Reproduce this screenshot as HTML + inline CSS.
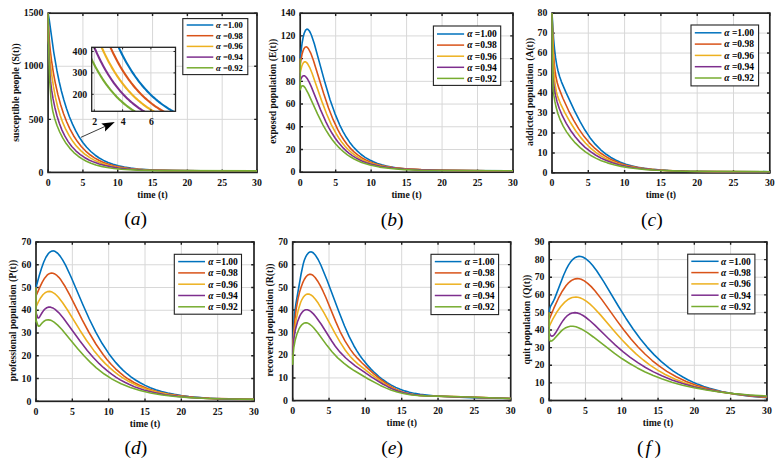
<!DOCTYPE html><html><head><meta charset="utf-8"><style>html,body{margin:0;padding:0;background:#fff;overflow:hidden}svg{display:block}.tk{font-family:"Liberation Serif",serif;font-weight:bold;font-size:9.8px;fill:#111}.lb{font-family:"Liberation Serif",serif;font-weight:bold;font-size:9.7px;fill:#111}.lg{font-family:"Liberation Serif",serif;font-weight:bold;font-size:9.5px;fill:#000}.al{font-style:italic;font-weight:bold}.sub{font-family:"Liberation Serif",serif;font-size:19.5px;fill:#000}.it{font-style:italic}</style></head><body>
<svg width="784" height="466" viewBox="0 0 784 466">
<rect width="784" height="466" fill="#fff"/>
<path d="M82.92 13.2V172.4M117.73 13.2V172.4M152.55 13.2V172.4M187.37 13.2V172.4M222.18 13.2V172.4M48.1 119.33H257M48.1 66.27H257" stroke="#d8d8d8" stroke-width="1" fill="none"/>
<path d="M48.1 172.4v-2.8M48.1 13.2v2.8M82.92 172.4v-2.8M82.92 13.2v2.8M117.73 172.4v-2.8M117.73 13.2v2.8M152.55 172.4v-2.8M152.55 13.2v2.8M187.37 172.4v-2.8M187.37 13.2v2.8M222.18 172.4v-2.8M222.18 13.2v2.8M257 172.4v-2.8M257 13.2v2.8M48.1 172.4h2.8M257 172.4h-2.8M48.1 119.33h2.8M257 119.33h-2.8M48.1 66.27h2.8M257 66.27h-2.8M48.1 13.2h2.8M257 13.2h-2.8" stroke="#222222" stroke-width="1.4" fill="none"/>
<rect x="48.1" y="13.2" width="208.9" height="159.2" fill="none" stroke="#222222" stroke-width="1.7"/>
<clipPath id="ca"><rect x="47.1" y="12.2" width="210.9" height="161.2"/></clipPath>
<g clip-path="url(#ca)" fill="none" stroke-width="1.6" stroke-linejoin="round">
<path d="M48.1 13.2L49.32 20.4L53.73 52.08L56.97 70.94L59.1 81.27L61.4 90.94L63.88 100.08L66.49 108.51L69.42 116.71L72.5 124.17L75.75 130.94L79.21 137.06L82.83 142.46L86.69 147.28L90.8 151.51L95.21 155.22L99.21 157.97L103.52 160.4L108.1 162.49L113.04 164.28L118.42 165.8L124.26 167.06L130.77 168.11L137.99 168.95L153.62 170.02L174.41 170.63L203.53 170.89L257 170.97" stroke="#0072BD"/>
<path d="M48.1 13.2L48.63 27.72L49.31 39.47L50.24 49.99L51.54 60.7L53.4 72.83L55.55 84.28L57.96 94.9L60.64 104.74L63.47 113.47L66.55 121.53L69.89 128.86L73.44 135.44L77.25 141.32L81.29 146.5L85.66 151.07L90.34 155.03L94.46 157.86L98.81 160.3L103.52 162.43L108.54 164.24L114.02 165.78L119.99 167.06L126.64 168.12L134.02 168.97L150.01 170.04L171.34 170.64L201.25 170.9L257 170.98" stroke="#D95319"/>
<path d="M48.1 13.2L48.36 40.18L50.15 61.16L51.73 74.87L53.5 86.93L55.5 97.64L57.77 107.28L60.14 115.3L62.79 122.65L65.8 129.48L69.12 135.69L72.75 141.31L76.73 146.39L81.03 150.87L85.66 154.77L89.8 157.61L94.25 160.11L99.04 162.27L104.23 164.14L109.79 165.69L115.93 167L122.7 168.06L130.24 168.92L146.57 170L168.41 170.6L199.2 170.86L257 170.94" stroke="#EDB120"/>
<path d="M48.1 13.2L48.86 50.58L49.95 74.02L50.71 82.71L51.71 90.66L53.09 98.96L54.8 107.21L56.95 115.71L59.33 123.33L61.96 130.1L64.9 136.2L68.15 141.61L71.78 146.47L75.83 150.78L80.31 154.58L84.5 157.44L89.01 159.93L93.94 162.12L99.26 163.99L105.06 165.58L111.43 166.9L118.48 167.99L126.35 168.86L143.36 169.97L165.99 170.59L197.8 170.86L257 170.94" stroke="#7E2F8E"/>
<path d="M48.1 13.2L48.83 54.08L49.76 81.41L50.99 99.02L51.82 105.61L52.85 111.37L54.58 118.29L56.91 125.29L59.69 132.01L62.82 138.15L66.19 143.55L69.85 148.33L73.85 152.56L78.18 156.23L82.12 158.91L86.36 161.25L90.95 163.27L95.91 164.97L101.31 166.39L107.24 167.56L113.82 168.5L121.3 169.25L137.28 170.14L159.16 170.62L257 170.84" stroke="#77AC30"/>
</g>
<text x="48.1" y="185.7" text-anchor="middle" class="tk">0</text>
<text x="82.92" y="185.7" text-anchor="middle" class="tk">5</text>
<text x="117.73" y="185.7" text-anchor="middle" class="tk">10</text>
<text x="152.55" y="185.7" text-anchor="middle" class="tk">15</text>
<text x="187.37" y="185.7" text-anchor="middle" class="tk">20</text>
<text x="222.18" y="185.7" text-anchor="middle" class="tk">25</text>
<text x="257" y="185.7" text-anchor="middle" class="tk">30</text>
<text x="43.4" y="175.6" text-anchor="end" class="tk">0</text>
<text x="43.4" y="122.53" text-anchor="end" class="tk">500</text>
<text x="43.4" y="69.47" text-anchor="end" class="tk">1000</text>
<text x="43.4" y="16.4" text-anchor="end" class="tk">1500</text>
<text x="152.55" y="197.9" text-anchor="middle" class="lb">time (t)</text>
<text transform="translate(18.5 92.5) rotate(-90)" text-anchor="middle" class="lb">susceptible people (S(t))</text>
<text x="135.5" y="224.8" text-anchor="middle" class="sub">(<tspan class="it">a</tspan>)</text>
<rect x="182.8" y="18.6" width="65" height="56" fill="#fff" stroke="#222222" stroke-width="1.1"/>
<path d="M186.7 25H213.3" stroke="#0072BD" stroke-width="1.5"/>
<text x="216" y="27.99" class="lg" style="font-size:8.6px"><tspan class="al">&#945;</tspan> =1.00</text>
<path d="M186.7 35.7H213.3" stroke="#D95319" stroke-width="1.5"/>
<text x="216" y="38.69" class="lg" style="font-size:8.6px"><tspan class="al">&#945;</tspan> =0.98</text>
<path d="M186.7 46.4H213.3" stroke="#EDB120" stroke-width="1.5"/>
<text x="216" y="49.39" class="lg" style="font-size:8.6px"><tspan class="al">&#945;</tspan> =0.96</text>
<path d="M186.7 57.1H213.3" stroke="#7E2F8E" stroke-width="1.5"/>
<text x="216" y="60.09" class="lg" style="font-size:8.6px"><tspan class="al">&#945;</tspan> =0.94</text>
<path d="M186.7 67.8H213.3" stroke="#77AC30" stroke-width="1.5"/>
<text x="216" y="70.79" class="lg" style="font-size:8.6px"><tspan class="al">&#945;</tspan> =0.92</text>
<path d="M335.67 13.2V172.2M371.13 13.2V172.2M406.6 13.2V172.2M442.07 13.2V172.2M477.53 13.2V172.2M300.2 149.49H513M300.2 126.77H513M300.2 104.06H513M300.2 81.34H513M300.2 58.63H513M300.2 35.91H513" stroke="#d8d8d8" stroke-width="1" fill="none"/>
<path d="M300.2 172.2v-2.8M300.2 13.2v2.8M335.67 172.2v-2.8M335.67 13.2v2.8M371.13 172.2v-2.8M371.13 13.2v2.8M406.6 172.2v-2.8M406.6 13.2v2.8M442.07 172.2v-2.8M442.07 13.2v2.8M477.53 172.2v-2.8M477.53 13.2v2.8M513 172.2v-2.8M513 13.2v2.8M300.2 172.2h2.8M513 172.2h-2.8M300.2 149.49h2.8M513 149.49h-2.8M300.2 126.77h2.8M513 126.77h-2.8M300.2 104.06h2.8M513 104.06h-2.8M300.2 81.34h2.8M513 81.34h-2.8M300.2 58.63h2.8M513 58.63h-2.8M300.2 35.91h2.8M513 35.91h-2.8M300.2 13.2h2.8M513 13.2h-2.8" stroke="#222222" stroke-width="1.4" fill="none"/>
<rect x="300.2" y="13.2" width="212.8" height="159" fill="none" stroke="#222222" stroke-width="1.7"/>
<clipPath id="cb"><rect x="299.2" y="12.2" width="214.8" height="161"/></clipPath>
<g clip-path="url(#cb)" fill="none" stroke-width="1.6" stroke-linejoin="round">
<path d="M300.2 58.63L302.11 43L303.14 37.41L304.21 33.3L305.36 30.59L305.95 29.77L306.56 29.28L307.19 29.14L307.84 29.34L309.23 30.76L310.35 32.73L311.55 35.48L314.32 43.69L324.94 82.59L330.14 99.9L334.95 113.58L339.8 125.07L342.93 131.34L346.2 137.04L349.61 142.15L353.18 146.69L356.89 150.67L360.88 154.23L365.11 157.32L369.63 160L373.43 161.83L377.42 163.42L381.77 164.83L386.41 166.04L396.9 167.95L409.55 169.28L424.2 170.08L443.29 170.56L513 170.88" stroke="#0072BD"/>
<path d="M300.2 58.63L300.2 64.31L300.2 64.31L301.96 54.55L302.91 51.17L303.9 48.77L304.94 47.35L306.04 46.86L307.21 47.32L308.47 48.75L310.72 53.07L313.37 60.17L323.58 93.27L328.53 107.94L333.14 119.71L337.79 129.67L340.78 135.09L343.9 140.04L347.11 144.44L350.45 148.37L353.99 151.89L357.68 154.95L361.64 157.68L365.89 160.06L369.63 161.77L373.57 163.26L377.86 164.58L382.44 165.71L392.89 167.51L405.67 168.8L421.14 169.67L441.83 170.28L513 171.12" stroke="#D95319"/>
<path d="M300.2 58.63L300.2 72.6L300.2 72.6L301.77 66.26L302.61 64.12L303.48 62.68L304.41 61.9L305.38 61.8L306.41 62.36L307.52 63.6L309.62 67.31L312.08 73.23L321.85 101.38L326.66 114.05L331.3 124.57L335.99 133.44L338.98 138.26L342.07 142.6L345.25 146.48L348.62 150.01L352.15 153.14L355.88 155.93L359.83 158.39L364 160.53L367.88 162.16L372.04 163.61L376.48 164.87L381.24 165.95L392.17 167.7L405.4 168.95L421.42 169.79L442.56 170.37L513 171.02" stroke="#EDB120"/>
<path d="M300.2 58.63L300.2 80.89L300.2 80.89L300.96 78.81L301.75 77.28L302.59 76.26L303.46 75.78L304.39 75.82L305.37 76.37L306.41 77.45L307.54 79.07L309.21 82.14L311.16 86.41L320.69 110.15L326.02 122.09L328.92 127.8L331.89 133.03L334.9 137.74L338.03 142.05L343.39 148.2L346.2 150.89L349.17 153.38L352.26 155.64L355.46 157.66L358.84 159.49L362.46 161.16L366.42 162.69L370.59 164.03L379.98 166.25L390.96 167.89L404.19 169.06L419.82 169.83L440.27 170.36L513 171.09" stroke="#7E2F8E"/>
<path d="M300.2 58.63L300.2 89.75L300.2 89.75L301.18 86.93L301.73 86.14L302.32 85.74L302.97 85.74L303.67 86.12L305.33 88.1L308.19 93.42L317.49 113.95L323.05 125.04L326.09 130.39L329.17 135.27L332.28 139.68L335.44 143.67L338.27 146.83L341.22 149.76L344.26 152.42L347.43 154.85L350.73 157.05L354.17 159.03L357.8 160.81L361.64 162.41L369.97 165.06L379.54 167.09L390.65 168.56L404.01 169.58L419.35 170.19L439.24 170.54L513 170.77" stroke="#77AC30"/>
</g>
<text x="300.2" y="185.5" text-anchor="middle" class="tk">0</text>
<text x="335.67" y="185.5" text-anchor="middle" class="tk">5</text>
<text x="371.13" y="185.5" text-anchor="middle" class="tk">10</text>
<text x="406.6" y="185.5" text-anchor="middle" class="tk">15</text>
<text x="442.07" y="185.5" text-anchor="middle" class="tk">20</text>
<text x="477.53" y="185.5" text-anchor="middle" class="tk">25</text>
<text x="513" y="185.5" text-anchor="middle" class="tk">30</text>
<text x="295.5" y="175.4" text-anchor="end" class="tk">0</text>
<text x="295.5" y="152.69" text-anchor="end" class="tk">20</text>
<text x="295.5" y="129.97" text-anchor="end" class="tk">40</text>
<text x="295.5" y="107.26" text-anchor="end" class="tk">60</text>
<text x="295.5" y="84.54" text-anchor="end" class="tk">80</text>
<text x="295.5" y="61.83" text-anchor="end" class="tk">100</text>
<text x="295.5" y="39.11" text-anchor="end" class="tk">120</text>
<text x="295.5" y="16.4" text-anchor="end" class="tk">140</text>
<text x="406.6" y="197.7" text-anchor="middle" class="lb">time (t)</text>
<text transform="translate(275.5 91.2) rotate(-90)" text-anchor="middle" class="lb">exposed population (E(t))</text>
<text x="392.2" y="225.8" text-anchor="middle" class="sub">(<tspan class="it">b</tspan>)</text>
<rect x="433.4" y="26" width="67.3" height="59.4" fill="#fff" stroke="#222222" stroke-width="1.1"/>
<path d="M437 34H464.1" stroke="#0072BD" stroke-width="1.5"/>
<text x="467.2" y="37.3" class="lg" style="font-size:9.5px"><tspan class="al">&#945;</tspan> =1.00</text>
<path d="M437 45.1H464.1" stroke="#D95319" stroke-width="1.5"/>
<text x="467.2" y="48.4" class="lg" style="font-size:9.5px"><tspan class="al">&#945;</tspan> =0.98</text>
<path d="M437 56.2H464.1" stroke="#EDB120" stroke-width="1.5"/>
<text x="467.2" y="59.5" class="lg" style="font-size:9.5px"><tspan class="al">&#945;</tspan> =0.96</text>
<path d="M437 67.3H464.1" stroke="#7E2F8E" stroke-width="1.5"/>
<text x="467.2" y="70.6" class="lg" style="font-size:9.5px"><tspan class="al">&#945;</tspan> =0.94</text>
<path d="M437 78.4H464.1" stroke="#77AC30" stroke-width="1.5"/>
<text x="467.2" y="81.7" class="lg" style="font-size:9.5px"><tspan class="al">&#945;</tspan> =0.92</text>
<path d="M588.3 13.1V172.9M624.6 13.1V172.9M660.9 13.1V172.9M697.2 13.1V172.9M733.5 13.1V172.9M552 152.93H769.8M552 132.95H769.8M552 112.98H769.8M552 93H769.8M552 73.02H769.8M552 53.05H769.8M552 33.08H769.8" stroke="#d8d8d8" stroke-width="1" fill="none"/>
<path d="M552 172.9v-2.8M552 13.1v2.8M588.3 172.9v-2.8M588.3 13.1v2.8M624.6 172.9v-2.8M624.6 13.1v2.8M660.9 172.9v-2.8M660.9 13.1v2.8M697.2 172.9v-2.8M697.2 13.1v2.8M733.5 172.9v-2.8M733.5 13.1v2.8M769.8 172.9v-2.8M769.8 13.1v2.8M552 172.9h2.8M769.8 172.9h-2.8M552 152.93h2.8M769.8 152.93h-2.8M552 132.95h2.8M769.8 132.95h-2.8M552 112.98h2.8M769.8 112.98h-2.8M552 93h2.8M769.8 93h-2.8M552 73.02h2.8M769.8 73.02h-2.8M552 53.05h2.8M769.8 53.05h-2.8M552 33.08h2.8M769.8 33.08h-2.8M552 13.1h2.8M769.8 13.1h-2.8" stroke="#222222" stroke-width="1.4" fill="none"/>
<rect x="552" y="13.1" width="217.8" height="159.8" fill="none" stroke="#222222" stroke-width="1.7"/>
<clipPath id="cc"><rect x="551" y="12.1" width="219.8" height="161.8"/></clipPath>
<g clip-path="url(#cc)" fill="none" stroke-width="1.6" stroke-linejoin="round">
<path d="M552 13.1L553.6 38.8L554.51 48.85L555.53 57.4L556.67 64.59L557.98 70.77L559.51 76.33L561.45 81.86L566.08 92.68L574.68 111.14L579.95 121.46L584.92 130.07L590 137.63L595.21 144.14L600.73 149.77L606.52 154.52L610.89 157.44L615.53 160.01L620.45 162.24L625.74 164.17L631.41 165.81L637.64 167.2L644.41 168.35L651.91 169.28L668.26 170.52L689.61 171.24L719 171.58L769.8 171.69" stroke="#0072BD"/>
<path d="M552 13.1L553.03 43.98L554.34 64.52L555.14 71.8L556.11 77.79L557.31 82.98L558.91 88.15L562.92 98.26L568.42 110.27L573.57 120.2L578.77 128.91L583.96 136.35L589.33 142.83L594.96 148.46L600.89 153.29L605.58 156.42L610.52 159.18L615.73 161.56L621.34 163.65L627.31 165.41L633.81 166.9L640.87 168.14L648.7 169.15L665.66 170.49L687.75 171.27L717.96 171.64L769.8 171.76" stroke="#D95319"/>
<path d="M552 13.1L552.88 48.35L553.98 71.78L554.64 79.99L555.43 86.51L556.38 91.76L557.6 96.35L560.31 103.28L565.12 113.07L570.39 122.53L575.64 130.75L580.55 137.39L585.62 143.26L590.86 148.36L596.41 152.82L601.17 156.01L606.22 158.83L611.58 161.28L617.3 163.41L623.41 165.21L630.08 166.74L637.33 168.01L645.39 169.05L662.83 170.42L685.51 171.22L716.58 171.6L769.8 171.73" stroke="#EDB120"/>
<path d="M552 13.1L552.25 55.98L552.68 73.73L553.28 80.7L554.37 88.88L555.6 95.63L557.06 101.65L559.37 108.75L562.41 115.94L566.26 123.38L570.64 130.51L575.17 136.76L579.99 142.36L585.09 147.33L590.53 151.7L595.47 155L600.78 157.95L606.46 160.54L612.52 162.77L619.03 164.68L626.09 166.31L633.81 167.67L642.31 168.79L651.06 169.64L660.93 170.32L684.9 171.24L717.27 171.71L769.8 171.89" stroke="#7E2F8E"/>
<path d="M552 13.1L552.38 59.31L552.94 83.39L553.33 90.04L553.89 95.39L554.82 101.15L556.08 107.05L558.01 113.93L560.33 120.2L563.17 126.15L566.58 131.9L570.67 137.59L575.24 142.9L580.15 147.66L585.4 151.88L590.38 155.19L595.68 158.11L601.34 160.66L607.41 162.87L613.98 164.77L621.13 166.37L628.91 167.7L637.57 168.79L646.46 169.6L656.4 170.25L680.79 171.12L714.06 171.54L769.8 171.69" stroke="#77AC30"/>
</g>
<text x="552" y="186.2" text-anchor="middle" class="tk">0</text>
<text x="588.3" y="186.2" text-anchor="middle" class="tk">5</text>
<text x="624.6" y="186.2" text-anchor="middle" class="tk">10</text>
<text x="660.9" y="186.2" text-anchor="middle" class="tk">15</text>
<text x="697.2" y="186.2" text-anchor="middle" class="tk">20</text>
<text x="733.5" y="186.2" text-anchor="middle" class="tk">25</text>
<text x="769.8" y="186.2" text-anchor="middle" class="tk">30</text>
<text x="547.3" y="176.1" text-anchor="end" class="tk">0</text>
<text x="547.3" y="156.12" text-anchor="end" class="tk">10</text>
<text x="547.3" y="136.15" text-anchor="end" class="tk">20</text>
<text x="547.3" y="116.18" text-anchor="end" class="tk">30</text>
<text x="547.3" y="96.2" text-anchor="end" class="tk">40</text>
<text x="547.3" y="76.22" text-anchor="end" class="tk">50</text>
<text x="547.3" y="56.25" text-anchor="end" class="tk">60</text>
<text x="547.3" y="36.28" text-anchor="end" class="tk">70</text>
<text x="547.3" y="16.3" text-anchor="end" class="tk">80</text>
<text x="660.9" y="198.4" text-anchor="middle" class="lb">time (t)</text>
<text transform="translate(533 91.8) rotate(-90)" text-anchor="middle" class="lb">addicted population (A(t))</text>
<text x="651.8" y="225.8" text-anchor="middle" class="sub">(<tspan class="it">c</tspan>)</text>
<rect x="691" y="25" width="67.6" height="60.9" fill="#fff" stroke="#222222" stroke-width="1.1"/>
<path d="M694.8 32.8H721.5" stroke="#0072BD" stroke-width="1.5"/>
<text x="724.3" y="36.1" class="lg" style="font-size:9.5px"><tspan class="al">&#945;</tspan> =1.00</text>
<path d="M694.8 44.1H721.5" stroke="#D95319" stroke-width="1.5"/>
<text x="724.3" y="47.4" class="lg" style="font-size:9.5px"><tspan class="al">&#945;</tspan> =0.98</text>
<path d="M694.8 55.4H721.5" stroke="#EDB120" stroke-width="1.5"/>
<text x="724.3" y="58.7" class="lg" style="font-size:9.5px"><tspan class="al">&#945;</tspan> =0.96</text>
<path d="M694.8 66.7H721.5" stroke="#7E2F8E" stroke-width="1.5"/>
<text x="724.3" y="70" class="lg" style="font-size:9.5px"><tspan class="al">&#945;</tspan> =0.94</text>
<path d="M694.8 78H721.5" stroke="#77AC30" stroke-width="1.5"/>
<text x="724.3" y="81.3" class="lg" style="font-size:9.5px"><tspan class="al">&#945;</tspan> =0.92</text>
<path d="M72.33 242V401.3M108.67 242V401.3M145 242V401.3M181.33 242V401.3M217.67 242V401.3M36 378.54H254M36 355.79H254M36 333.03H254M36 310.27H254M36 287.51H254M36 264.76H254" stroke="#d8d8d8" stroke-width="1" fill="none"/>
<path d="M36 401.3v-2.8M36 242v2.8M72.33 401.3v-2.8M72.33 242v2.8M108.67 401.3v-2.8M108.67 242v2.8M145 401.3v-2.8M145 242v2.8M181.33 401.3v-2.8M181.33 242v2.8M217.67 401.3v-2.8M217.67 242v2.8M254 401.3v-2.8M254 242v2.8M36 401.3h2.8M254 401.3h-2.8M36 378.54h2.8M254 378.54h-2.8M36 355.79h2.8M254 355.79h-2.8M36 333.03h2.8M254 333.03h-2.8M36 310.27h2.8M254 310.27h-2.8M36 287.51h2.8M254 287.51h-2.8M36 264.76h2.8M254 264.76h-2.8M36 242h2.8M254 242h-2.8" stroke="#222222" stroke-width="1.4" fill="none"/>
<rect x="36" y="242" width="218" height="159.3" fill="none" stroke="#222222" stroke-width="1.7"/>
<clipPath id="cd"><rect x="35" y="241" width="220" height="161.3"/></clipPath>
<g clip-path="url(#cd)" fill="none" stroke-width="1.6" stroke-linejoin="round">
<path d="M36 287.51L39.2 275.82L41.52 268.2L43.76 262.02L45.94 257.27L48.22 253.75L49.36 252.53L50.52 251.65L51.7 251.11L52.87 250.92L54.07 251.05L55.32 251.53L57.66 253.25L60.13 256.11L62.76 260.1L65.67 265.44L70.96 276.73L83.12 305.31L89.16 318.77L95.63 331.89L102.02 343.28L108.81 353.65L112.32 358.34L115.85 362.64L119.48 366.64L123.21 370.33L127.03 373.73L130.96 376.83L135.49 379.98L140.15 382.79L145.12 385.36L150.32 387.65L155.76 389.67L161.55 391.46L167.71 393.03L174.35 394.39L181.3 395.54L188.79 396.5L205.84 397.98L226.75 398.94L254 399.5" stroke="#0072BD"/>
<path d="M36 287.51L36 295.93L36 295.93L39.98 286.81L42.27 282.09L44.61 278.17L46.87 275.43L48.05 274.41L49.26 273.68L50.46 273.24L51.7 273.1L52.96 273.25L54.23 273.68L56.89 275.45L58.81 277.35L60.83 279.85L65.3 286.76L69.97 295.31L82.36 320.03L88.86 332.25L96.01 344.28L103.09 354.57L107.13 359.7L111.31 364.47L115.56 368.8L119.87 372.7L124.39 376.3L129.06 379.54L133.96 382.48L139.02 385.08L147.84 388.73L157.48 391.7L168.21 394.07L180.24 395.9L193.79 397.24L209.86 398.22L229.27 398.87L254 399.27" stroke="#D95319"/>
<path d="M36 287.51L36 306.86L36 306.86L38.47 301.63L40.72 297.68L42.92 294.73L45.11 292.73L47.37 291.61L49.7 291.39L52.12 292.08L54.69 293.67L56.49 295.24L58.42 297.27L62.64 302.7L67.18 309.52L79.72 329.94L86.4 340.2L93.77 350.39L101.1 359.16L105.33 363.64L109.59 367.7L113.93 371.43L118.41 374.88L123.05 378.05L127.84 380.93L132.87 383.58L138.06 385.96L147.38 389.44L157.58 392.32L168.82 394.63L181.3 396.42L195.14 397.72L211.17 398.64L230.16 399.21L254 399.5" stroke="#EDB120"/>
<path d="M36 287.51L36 313.69L36 313.69L36.18 313.44L36.39 313.71L37.69 317.41L38.09 317.89L38.52 317.98L39.02 317.67L39.6 316.95L42.2 312.52L43.68 310.4L45.19 308.81L46.73 307.74L48.61 307.12L50.62 307.17L52.76 307.9L55.07 309.33L58.91 312.82L63.46 318.18L79.98 341.02L87.25 350.45L93.28 357.49L99.26 363.71L103.3 367.47L107.41 370.96L111.6 374.18L115.85 377.12L120.25 379.83L124.79 382.32L129.47 384.58L134.39 386.65L143.77 389.9L154.06 392.57L165.4 394.71L178.12 396.38L192.34 397.62L209.03 398.53L228.89 399.14L254 399.53" stroke="#7E2F8E"/>
<path d="M36 287.51L36 321.65L36 321.65L36.2 320.89L36.44 320.93L37.78 325.19L38.28 326L38.81 326.27L39.84 325.69L42.28 322.85L43.66 321.52L45.03 320.6L46.44 320.04L48.17 319.82L50.01 320.09L51.98 320.86L54.07 322.12L57.66 325.1L61.91 329.54L77.52 348.41L84.44 356.27L90.39 362.39L96.32 367.81L104.24 374.03L112.47 379.34L121.1 383.82L130.38 387.59L139.98 390.58L150.51 393.04L162.14 395L175.19 396.52L189.89 397.66L207.14 398.48L227.88 399.04L254 399.38" stroke="#77AC30"/>
</g>
<text x="36" y="414.6" text-anchor="middle" class="tk">0</text>
<text x="72.33" y="414.6" text-anchor="middle" class="tk">5</text>
<text x="108.67" y="414.6" text-anchor="middle" class="tk">10</text>
<text x="145" y="414.6" text-anchor="middle" class="tk">15</text>
<text x="181.33" y="414.6" text-anchor="middle" class="tk">20</text>
<text x="217.67" y="414.6" text-anchor="middle" class="tk">25</text>
<text x="254" y="414.6" text-anchor="middle" class="tk">30</text>
<text x="31.3" y="404.5" text-anchor="end" class="tk">0</text>
<text x="31.3" y="381.74" text-anchor="end" class="tk">10</text>
<text x="31.3" y="358.99" text-anchor="end" class="tk">20</text>
<text x="31.3" y="336.23" text-anchor="end" class="tk">30</text>
<text x="31.3" y="313.47" text-anchor="end" class="tk">40</text>
<text x="31.3" y="290.71" text-anchor="end" class="tk">50</text>
<text x="31.3" y="267.96" text-anchor="end" class="tk">60</text>
<text x="31.3" y="245.2" text-anchor="end" class="tk">70</text>
<text x="145" y="426.8" text-anchor="middle" class="lb">time (t)</text>
<text transform="translate(16.3 320.6) rotate(-90)" text-anchor="middle" class="lb">professional population (P(t))</text>
<text x="135.9" y="453.8" text-anchor="middle" class="sub">(<tspan class="it">d</tspan>)</text>
<rect x="174.3" y="254.3" width="67.2" height="59.9" fill="#fff" stroke="#222222" stroke-width="1.1"/>
<path d="M178.2 261.6H205" stroke="#0072BD" stroke-width="1.5"/>
<text x="208.2" y="264.9" class="lg" style="font-size:9.5px"><tspan class="al">&#945;</tspan> =1.00</text>
<path d="M178.2 272.9H205" stroke="#D95319" stroke-width="1.5"/>
<text x="208.2" y="276.2" class="lg" style="font-size:9.5px"><tspan class="al">&#945;</tspan> =0.98</text>
<path d="M178.2 284.2H205" stroke="#EDB120" stroke-width="1.5"/>
<text x="208.2" y="287.5" class="lg" style="font-size:9.5px"><tspan class="al">&#945;</tspan> =0.96</text>
<path d="M178.2 295.5H205" stroke="#7E2F8E" stroke-width="1.5"/>
<text x="208.2" y="298.8" class="lg" style="font-size:9.5px"><tspan class="al">&#945;</tspan> =0.94</text>
<path d="M178.2 306.8H205" stroke="#77AC30" stroke-width="1.5"/>
<text x="208.2" y="310.1" class="lg" style="font-size:9.5px"><tspan class="al">&#945;</tspan> =0.92</text>
<path d="M329.03 242V400.6M365.37 242V400.6M401.7 242V400.6M438.03 242V400.6M474.37 242V400.6M292.7 377.94H510.7M292.7 355.29H510.7M292.7 332.63H510.7M292.7 309.97H510.7M292.7 287.31H510.7M292.7 264.66H510.7" stroke="#d8d8d8" stroke-width="1" fill="none"/>
<path d="M292.7 400.6v-2.8M292.7 242v2.8M329.03 400.6v-2.8M329.03 242v2.8M365.37 400.6v-2.8M365.37 242v2.8M401.7 400.6v-2.8M401.7 242v2.8M438.03 400.6v-2.8M438.03 242v2.8M474.37 400.6v-2.8M474.37 242v2.8M510.7 400.6v-2.8M510.7 242v2.8M292.7 400.6h2.8M510.7 400.6h-2.8M292.7 377.94h2.8M510.7 377.94h-2.8M292.7 355.29h2.8M510.7 355.29h-2.8M292.7 332.63h2.8M510.7 332.63h-2.8M292.7 309.97h2.8M510.7 309.97h-2.8M292.7 287.31h2.8M510.7 287.31h-2.8M292.7 264.66h2.8M510.7 264.66h-2.8M292.7 242h2.8M510.7 242h-2.8" stroke="#222222" stroke-width="1.4" fill="none"/>
<rect x="292.7" y="242" width="218" height="158.6" fill="none" stroke="#222222" stroke-width="1.7"/>
<clipPath id="ce"><rect x="291.7" y="241" width="220" height="160.6"/></clipPath>
<g clip-path="url(#ce)" fill="none" stroke-width="1.6" stroke-linejoin="round">
<path d="M292.7 355.32L292.83 344.61L293.2 333.79L293.82 323L294.62 313.66L296.01 303.18L301.04 274.26L303.19 264.12L304.32 260.32L305.56 257.19L306.95 254.65L308.37 252.93L309.84 252.01L311.33 251.91L312.34 252.28L313.42 253.02L315.68 255.55L318.12 259.48L320.83 264.98L326.98 279.99L338.42 310.51L344.52 326.04L349.07 336.44L353.85 345.72L356.88 350.85L360.06 355.7L363.48 360.35L367.15 364.85L371 369.11L374.89 372.97L378.89 376.52L383.01 379.76L387.16 382.62L391.34 385.13L395.72 387.38L400.12 389.28L404.63 390.89L409.44 392.27L414.57 393.41L420.12 394.36L433.24 395.78L453.77 397.02L477.34 397.86L510.7 398.57" stroke="#0072BD"/>
<path d="M292.7 355.53L293.13 341.31L294.51 323.15L296.18 308.98L298.26 297.48L299.59 292.13L301.08 287.2L302.66 282.92L304.28 279.48L305.86 276.98L307.48 275.26L309.11 274.38L310.77 274.3L311.8 274.65L312.86 275.3L315.12 277.51L317.56 280.92L320.28 285.65L322.91 290.96L325.87 297.54L335.85 321.92L340.09 331.53L345.1 341.17L350.47 349.62L353.91 354.17L357.6 358.42L361.83 362.74L368.08 368.64L374.2 374.13L379.59 378.61L384.7 382.47L389.66 385.78L396.41 389.52L402.99 392.22L410 394.1L417.86 395.29L428.07 395.96L461.61 396.81L510.7 398.56" stroke="#D95319"/>
<path d="M292.7 355.39L293.1 344.58L294.36 331.85L296.22 319.44L298.4 309.39L300.7 302.27L301.93 299.54L303.23 297.34L304.58 295.69L305.99 294.59L307.43 294.06L308.91 294.08L310.93 294.93L313.16 296.74L315.58 299.5L318.31 303.32L323.88 312.59L335.23 333.63L340.09 342.14L345.33 350.25L350.23 356.49L353.72 360.16L357.8 363.86L371.14 374.33L382.05 382.1L386.83 385.09L391.43 387.64L397.9 390.63L404.26 392.79L411.13 394.33L418.94 395.34L429.09 395.93L461.26 396.83L510.7 398.56" stroke="#EDB120"/>
<path d="M292.7 355.28L293.01 346.5L293.94 337.8L295.49 329.17L297.5 321.69L299.71 316.1L300.91 313.92L302.14 312.21L303.41 310.94L304.73 310.1L306.09 309.7L307.48 309.76L309.28 310.43L311.27 311.81L313.42 313.86L315.82 316.68L321.39 324.53L331.89 341.22L335.29 346.25L340.04 352.18L345.51 357.77L350.04 361.73L355.25 365.79L371.29 376.89L382.69 383.96L387.74 386.67L392.53 388.92L398.87 391.39L405.09 393.16L411.99 394.47L419.82 395.35L430.33 395.93L510.7 398.56" stroke="#7E2F8E"/>
<path d="M292.7 355.29L292.7 364.31L292.7 364.31L292.97 355.94L293.78 347.94L295.08 340.64L296.84 334.22L298.98 328.97L300.15 326.92L301.35 325.29L302.6 324.07L303.91 323.24L305.24 322.84L306.61 322.85L308.14 323.33L309.81 324.3L311.61 325.75L313.59 327.73L317.49 332.44L327.07 345.61L331.99 351.8L337.68 357.87L344.06 363.46L348.77 366.99L354.04 370.55L368.22 379L380.3 385.41L385.68 387.87L390.83 389.93L397.2 392.04L403.36 393.57L410 394.68L417.57 395.43L426.13 395.86L460.56 396.76L510.7 398.56" stroke="#77AC30"/>
</g>
<text x="292.7" y="413.9" text-anchor="middle" class="tk">0</text>
<text x="329.03" y="413.9" text-anchor="middle" class="tk">5</text>
<text x="365.37" y="413.9" text-anchor="middle" class="tk">10</text>
<text x="401.7" y="413.9" text-anchor="middle" class="tk">15</text>
<text x="438.03" y="413.9" text-anchor="middle" class="tk">20</text>
<text x="474.37" y="413.9" text-anchor="middle" class="tk">25</text>
<text x="510.7" y="413.9" text-anchor="middle" class="tk">30</text>
<text x="288" y="403.8" text-anchor="end" class="tk">0</text>
<text x="288" y="381.14" text-anchor="end" class="tk">10</text>
<text x="288" y="358.49" text-anchor="end" class="tk">20</text>
<text x="288" y="335.83" text-anchor="end" class="tk">30</text>
<text x="288" y="313.17" text-anchor="end" class="tk">40</text>
<text x="288" y="290.51" text-anchor="end" class="tk">50</text>
<text x="288" y="267.86" text-anchor="end" class="tk">60</text>
<text x="288" y="245.2" text-anchor="end" class="tk">70</text>
<text x="401.7" y="426.1" text-anchor="middle" class="lb">time (t)</text>
<text transform="translate(273.2 320) rotate(-90)" text-anchor="middle" class="lb">recovered population (R(t))</text>
<text x="392.2" y="454.2" text-anchor="middle" class="sub">(<tspan class="it">e</tspan>)</text>
<rect x="431" y="254.3" width="67.6" height="60.3" fill="#fff" stroke="#222222" stroke-width="1.1"/>
<path d="M434.8 261.6H461.5" stroke="#0072BD" stroke-width="1.5"/>
<text x="464.8" y="264.9" class="lg" style="font-size:9.5px"><tspan class="al">&#945;</tspan> =1.00</text>
<path d="M434.8 272.9H461.5" stroke="#D95319" stroke-width="1.5"/>
<text x="464.8" y="276.2" class="lg" style="font-size:9.5px"><tspan class="al">&#945;</tspan> =0.98</text>
<path d="M434.8 284.2H461.5" stroke="#EDB120" stroke-width="1.5"/>
<text x="464.8" y="287.5" class="lg" style="font-size:9.5px"><tspan class="al">&#945;</tspan> =0.96</text>
<path d="M434.8 295.5H461.5" stroke="#7E2F8E" stroke-width="1.5"/>
<text x="464.8" y="298.8" class="lg" style="font-size:9.5px"><tspan class="al">&#945;</tspan> =0.94</text>
<path d="M434.8 306.8H461.5" stroke="#77AC30" stroke-width="1.5"/>
<text x="464.8" y="310.1" class="lg" style="font-size:9.5px"><tspan class="al">&#945;</tspan> =0.92</text>
<path d="M585.48 242V400.5M621.77 242V400.5M658.05 242V400.5M694.33 242V400.5M730.62 242V400.5M549.2 382.89H766.9M549.2 365.28H766.9M549.2 347.67H766.9M549.2 330.06H766.9M549.2 312.44H766.9M549.2 294.83H766.9M549.2 277.22H766.9M549.2 259.61H766.9" stroke="#d8d8d8" stroke-width="1" fill="none"/>
<path d="M549.2 400.5v-2.8M549.2 242v2.8M585.48 400.5v-2.8M585.48 242v2.8M621.77 400.5v-2.8M621.77 242v2.8M658.05 400.5v-2.8M658.05 242v2.8M694.33 400.5v-2.8M694.33 242v2.8M730.62 400.5v-2.8M730.62 242v2.8M766.9 400.5v-2.8M766.9 242v2.8M549.2 400.5h2.8M766.9 400.5h-2.8M549.2 382.89h2.8M766.9 382.89h-2.8M549.2 365.28h2.8M766.9 365.28h-2.8M549.2 347.67h2.8M766.9 347.67h-2.8M549.2 330.06h2.8M766.9 330.06h-2.8M549.2 312.44h2.8M766.9 312.44h-2.8M549.2 294.83h2.8M766.9 294.83h-2.8M549.2 277.22h2.8M766.9 277.22h-2.8M549.2 259.61h2.8M766.9 259.61h-2.8M549.2 242h2.8M766.9 242h-2.8" stroke="#222222" stroke-width="1.4" fill="none"/>
<rect x="549.2" y="242" width="217.7" height="158.5" fill="none" stroke="#222222" stroke-width="1.7"/>
<clipPath id="cf"><rect x="548.2" y="241" width="219.7" height="160.5"/></clipPath>
<g clip-path="url(#cf)" fill="none" stroke-width="1.6" stroke-linejoin="round">
<path d="M549.2 312.44L549.76 308.87L550.49 306.38L553.22 301.5L554.7 298.4L563.59 275.22L566.17 269.46L568.62 264.92L570.33 262.34L572.01 260.26L573.7 258.64L575.42 257.44L577.17 256.68L578.96 256.36L580.8 256.47L582.67 257L585.81 258.75L589.12 261.58L592.7 265.57L596.64 270.79L603.69 281.63L618.71 306.72L625.85 318.19L633.26 329.26L640.43 339L647.28 347.35L654.26 354.9L661.34 361.63L668.7 367.7L673.31 371.06L678.03 374.18L682.85 377.05L687.78 379.68L692.92 382.14L698.17 384.37L703.76 386.45L709.48 388.32L721.64 391.54L734.95 394.12L749.9 396.17L766.9 397.72" stroke="#0072BD"/>
<path d="M549.2 312.44L549.2 319.49L549.2 319.49L553.86 308.18L558.46 298.24L562.42 290.97L566.14 285.55L567.96 283.45L569.79 281.73L571.62 280.39L573.48 279.43L575.34 278.85L577.25 278.64L579.2 278.81L581.19 279.34L584.34 280.88L587.66 283.3L591.22 286.63L595.13 290.98L602.05 299.88L616.88 320.63L623.83 329.99L631.2 339.2L638.27 347.21L645.19 354.25L652.16 360.53L659.34 366.21L666.81 371.33L676.25 376.77L686.23 381.47L696.88 385.49L708.35 388.88L720.81 391.71L734.45 394.02L749.64 395.88L766.9 397.34" stroke="#D95319"/>
<path d="M549.2 312.44L549.2 326.53L549.2 326.53L552.64 319.31L556.69 312.32L560.81 306.49L564.79 302.1L568.49 299.23L570.33 298.25L572.19 297.57L574.07 297.18L575.96 297.09L577.9 297.29L579.87 297.79L582.98 299.12L586.23 301.14L589.76 303.92L593.59 307.5L600.44 314.88L615 331.94L621.91 339.73L629.24 347.39L636.29 354.07L643.28 360.01L650.35 365.32L657.63 370.12L665.22 374.45L674.78 379.06L684.99 383.08L695.8 386.51L707.56 389.45L720.22 391.89L734.21 393.93L749.64 395.57L766.9 396.87" stroke="#EDB120"/>
<path d="M549.2 312.44L549.2 332.7L549.2 332.7L550.04 334.68L550.94 335.86L551.93 336.24L553.04 335.84L554.22 334.72L555.61 332.82L560.72 324.12L562.96 320.65L564.99 318.01L566.97 315.94L569.56 314.03L572.22 312.94L575 312.65L577.98 313.15L580.42 314.08L583.07 315.53L585.95 317.5L589.12 320.02L594.81 325.18L608.44 338.51L615.4 345.05L622.9 351.57L630.22 357.34L637.79 362.68L645.52 367.51L653.47 371.87L661.8 375.83L671.96 379.94L682.65 383.54L694.09 386.69L706.33 389.41L719.51 391.74L733.84 393.71L749.51 395.35L766.9 396.7" stroke="#7E2F8E"/>
<path d="M549.2 312.44L549.2 337.98L549.2 337.98L549.5 339.79L549.92 340.77L550.6 341.14L551.58 340.95L552.72 340.26L554.06 339.04L561.19 331.12L563.17 329.42L565.13 328.09L567.68 326.92L570.29 326.32L573.01 326.28L575.92 326.81L578.46 327.66L581.19 328.91L587.42 332.68L593.33 336.99L614.54 353.41L622.19 358.78L629.62 363.52L637.31 367.93L645.19 371.94L653.29 375.56L661.62 378.81L671.76 382.18L682.55 385.16L693.98 387.76L706.33 390.03L719.51 391.96L733.84 393.6L749.51 394.96L766.9 396.09" stroke="#77AC30"/>
</g>
<text x="549.2" y="413.8" text-anchor="middle" class="tk">0</text>
<text x="585.48" y="413.8" text-anchor="middle" class="tk">5</text>
<text x="621.77" y="413.8" text-anchor="middle" class="tk">10</text>
<text x="658.05" y="413.8" text-anchor="middle" class="tk">15</text>
<text x="694.33" y="413.8" text-anchor="middle" class="tk">20</text>
<text x="730.62" y="413.8" text-anchor="middle" class="tk">25</text>
<text x="766.9" y="413.8" text-anchor="middle" class="tk">30</text>
<text x="544.5" y="403.7" text-anchor="end" class="tk">0</text>
<text x="544.5" y="386.09" text-anchor="end" class="tk">10</text>
<text x="544.5" y="368.48" text-anchor="end" class="tk">20</text>
<text x="544.5" y="350.87" text-anchor="end" class="tk">30</text>
<text x="544.5" y="333.26" text-anchor="end" class="tk">40</text>
<text x="544.5" y="315.64" text-anchor="end" class="tk">50</text>
<text x="544.5" y="298.03" text-anchor="end" class="tk">60</text>
<text x="544.5" y="280.42" text-anchor="end" class="tk">70</text>
<text x="544.5" y="262.81" text-anchor="end" class="tk">80</text>
<text x="544.5" y="245.2" text-anchor="end" class="tk">90</text>
<text x="658.05" y="426" text-anchor="middle" class="lb">time (t)</text>
<text transform="translate(530 319.6) rotate(-90)" text-anchor="middle" class="lb">quit population (Q(t))</text>
<text x="649" y="454.2" text-anchor="middle" class="sub">(<tspan class="it" dx="2">f</tspan><tspan dx="3.4">)</tspan></text>
<rect x="687.7" y="254.2" width="67.2" height="59.7" fill="#fff" stroke="#222222" stroke-width="1.1"/>
<path d="M691.3 261.3H718.6" stroke="#0072BD" stroke-width="1.5"/>
<text x="721" y="264.6" class="lg" style="font-size:9.5px"><tspan class="al">&#945;</tspan> =1.00</text>
<path d="M691.3 272.6H718.6" stroke="#D95319" stroke-width="1.5"/>
<text x="721" y="275.9" class="lg" style="font-size:9.5px"><tspan class="al">&#945;</tspan> =0.98</text>
<path d="M691.3 283.9H718.6" stroke="#EDB120" stroke-width="1.5"/>
<text x="721" y="287.2" class="lg" style="font-size:9.5px"><tspan class="al">&#945;</tspan> =0.96</text>
<path d="M691.3 295.2H718.6" stroke="#7E2F8E" stroke-width="1.5"/>
<text x="721" y="298.5" class="lg" style="font-size:9.5px"><tspan class="al">&#945;</tspan> =0.94</text>
<path d="M691.3 306.5H718.6" stroke="#77AC30" stroke-width="1.5"/>
<text x="721" y="309.8" class="lg" style="font-size:9.5px"><tspan class="al">&#945;</tspan> =0.92</text>
<rect x="91.7" y="47.3" width="83.8" height="64" fill="#fff"/>
<path d="M94.3 47.3V111.3M122.6 47.3V111.3M150.9 47.3V111.3M91.7 94.3H175.5M91.7 72.9H175.5M91.7 51.5H175.5" stroke="#d8d8d8" stroke-width="1" fill="none"/>
<clipPath id="cin"><rect x="91.7" y="47.3" width="83.8" height="64"/></clipPath>
<g clip-path="url(#cin)" fill="none" stroke-width="2.1">
<path d="M114.53 38.11L115.6 40.59L116.66 43.01L117.72 45.36L118.78 47.66L119.85 49.89L120.91 52.07L121.97 54.19L123.03 56.26L124.1 58.27L125.16 60.23L126.22 62.14L127.28 64L128.35 65.81L129.41 67.57L130.47 69.29L131.53 70.96L132.6 72.59L133.66 74.18L134.72 75.73L135.78 77.24L136.85 78.7L137.91 80.14L138.97 81.53L140.03 82.88L141.1 84.21L142.16 85.49L143.22 86.75L144.28 87.97L145.35 89.16L146.41 90.32L147.47 91.45L148.53 92.55L149.6 93.62L150.66 94.66L151.72 95.68L152.78 96.67L153.85 97.63L154.91 98.57L155.97 99.49L157.03 100.38L158.09 101.25L159.16 102.09L160.22 102.92L161.28 103.72L162.34 104.5L163.41 105.26L164.47 106.01L165.53 106.73L166.59 107.43L167.66 108.12L168.72 108.79L169.78 109.44L170.84 110.07L171.91 110.69L172.97 111.29L174.03 111.87L175.09 112.45L176.16 113L177.22 113.54" stroke="#0072BD"/>
<path d="M106.33 37.81L107.36 40.31L108.4 42.75L109.44 45.12L110.47 47.43L111.51 49.68L112.54 51.87L113.58 54L114.62 56.08L115.65 58.1L116.69 60.08L117.72 62L118.76 63.87L119.8 65.69L120.83 67.46L121.87 69.19L122.9 70.87L123.94 72.51L124.98 74.11L126.01 75.67L127.05 77.18L128.08 78.66L129.12 80.09L130.16 81.49L131.19 82.86L132.23 84.18L133.27 85.48L134.3 86.74L135.34 87.96L136.37 89.16L137.41 90.32L138.45 91.45L139.48 92.56L140.52 93.63L141.55 94.68L142.59 95.7L143.63 96.7L144.66 97.66L145.7 98.61L146.73 99.52L147.77 100.42L148.81 101.29L149.84 102.14L150.88 102.96L151.91 103.77L152.95 104.55L153.99 105.31L155.02 106.06L156.06 106.78L157.09 107.49L158.13 108.17L159.17 108.84L160.2 109.49L161.24 110.13L162.28 110.75L163.31 111.35L164.35 111.94L165.38 112.51L166.42 113.06L167.46 113.61" stroke="#D95319"/>
<path d="M97.55 37.61L98.57 40.12L99.59 42.57L100.61 44.95L101.63 47.27L102.65 49.53L103.67 51.73L104.69 53.87L105.71 55.96L106.73 57.99L107.75 59.97L108.77 61.9L109.79 63.78L110.81 65.61L111.82 67.39L112.84 69.12L113.86 70.81L114.88 72.46L115.9 74.06L116.92 75.62L117.94 77.14L118.96 78.62L119.98 80.06L121 81.47L122.02 82.84L123.04 84.17L124.06 85.46L125.08 86.73L126.09 87.96L127.11 89.16L128.13 90.32L129.15 91.46L130.17 92.57L131.19 93.64L132.21 94.69L133.23 95.72L134.25 96.71L135.27 97.68L136.29 98.63L137.31 99.55L138.33 100.44L139.34 101.31L140.36 102.16L141.38 102.99L142.4 103.8L143.42 104.58L144.44 105.35L145.46 106.09L146.48 106.82L147.5 107.52L148.52 108.21L149.54 108.88L150.56 109.53L151.58 110.17L152.6 110.79L153.61 111.39L154.63 111.98L155.65 112.55L156.67 113.1L157.69 113.65" stroke="#EDB120"/>
<path d="M90.2 37.13L91.18 39.67L92.16 42.14L93.14 44.55L94.12 46.89L95.1 49.18L96.08 51.4L97.06 53.57L98.04 55.67L99.02 57.73L100.01 59.73L100.99 61.67L101.97 63.57L102.95 65.42L103.93 67.21L104.91 68.96L105.89 70.67L106.87 72.33L107.85 73.94L108.83 75.52L109.81 77.05L110.8 78.54L111.78 80L112.76 81.41L113.74 82.79L114.72 84.13L115.7 85.44L116.68 86.71L117.66 87.95L118.64 89.15L119.62 90.33L120.6 91.47L121.59 92.58L122.57 93.67L123.55 94.72L124.53 95.75L125.51 96.75L126.49 97.73L127.47 98.68L128.45 99.6L129.43 100.5L130.41 101.38L131.39 102.23L132.38 103.06L133.36 103.87L134.34 104.66L135.32 105.43L136.3 106.17L137.28 106.9L138.26 107.61L139.24 108.3L140.22 108.97L141.2 109.63L142.18 110.26L143.17 110.88L144.15 111.49L145.13 112.08L146.11 112.65L147.09 113.21L148.07 113.75" stroke="#7E2F8E"/>
<path d="M87.51 50.32L88.38 52.31L89.24 54.26L90.11 56.16L90.98 58.02L91.85 59.83L92.72 61.6L93.59 63.32L94.45 65.01L95.32 66.65L96.19 68.26L97.06 69.83L97.93 71.36L98.79 72.85L99.66 74.31L100.53 75.73L101.4 77.12L102.27 78.48L103.14 79.8L104 81.09L104.87 82.35L105.74 83.58L106.61 84.78L107.48 85.96L108.34 87.1L109.21 88.22L110.08 89.31L110.95 90.37L111.82 91.41L112.69 92.43L113.55 93.42L114.42 94.38L115.29 95.33L116.16 96.25L117.03 97.15L117.89 98.02L118.76 98.88L119.63 99.72L120.5 100.53L121.37 101.33L122.24 102.11L123.1 102.87L123.97 103.61L124.84 104.33L125.71 105.04L126.58 105.73L127.44 106.4L128.31 107.05L129.18 107.69L130.05 108.32L130.92 108.93L131.79 109.53L132.65 110.11L133.52 110.68L134.39 111.23L135.26 111.77L136.13 112.3L136.99 112.82L137.86 113.32L138.73 113.81" stroke="#77AC30"/>
</g>
<path d="M94.3 111.3v-2M94.3 47.3v2M122.6 111.3v-2M122.6 47.3v2M150.9 111.3v-2M150.9 47.3v2M91.7 94.3h2M175.5 94.3h-2M91.7 72.9h2M175.5 72.9h-2M91.7 51.5h2M175.5 51.5h-2" stroke="#222222" stroke-width="1" fill="none"/>
<rect x="91.7" y="47.3" width="83.8" height="64" fill="none" stroke="#222222" stroke-width="1.3"/>
<text x="94.8" y="124.7" text-anchor="middle" class="tk">2</text>
<text x="123.1" y="124.7" text-anchor="middle" class="tk">4</text>
<text x="151.4" y="124.7" text-anchor="middle" class="tk">6</text>
<text x="87.2" y="97.5" text-anchor="end" class="tk">200</text>
<text x="87.2" y="76.1" text-anchor="end" class="tk">300</text>
<text x="87.2" y="54.7" text-anchor="end" class="tk">400</text>
<path d="M81 137.3L106 126" stroke="#262626" stroke-width="0.9"/>
<path d="M114.8 122.1L101.3 123.4L105.2 126.6L105 131.6Z" fill="#000"/>
</svg></body></html>
